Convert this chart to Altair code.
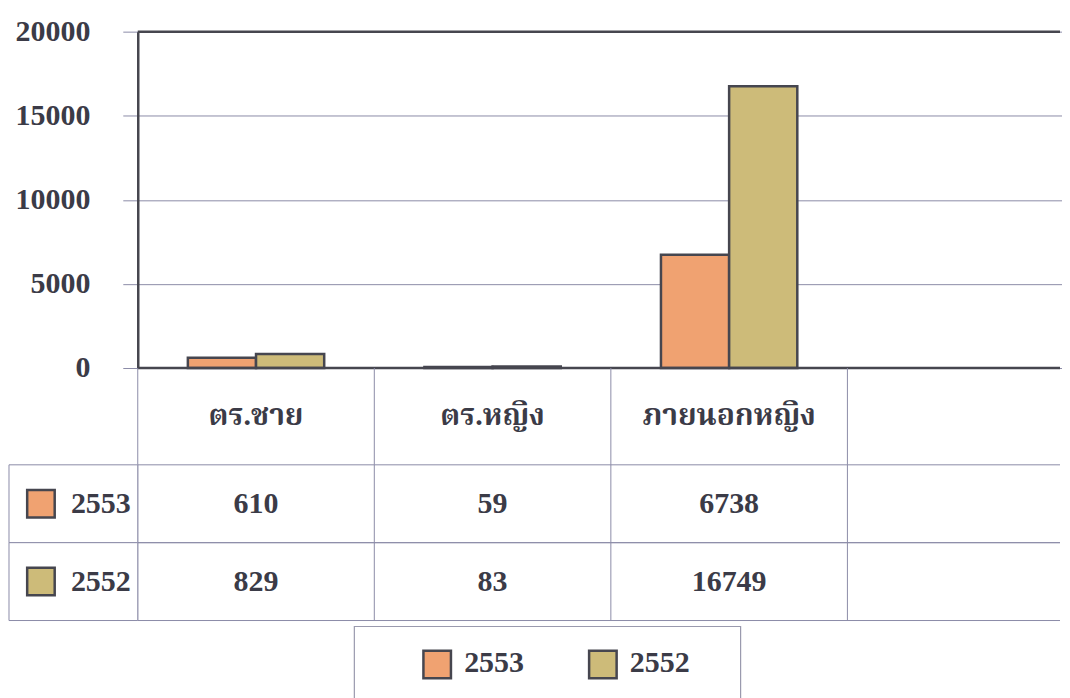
import altair as alt
import pandas as pd

# ---------------- data ----------------
categories = ["ตร.ชาย", "ตร.หญิง", "ภายนอกหญิง"]
blank_column = " "
years = ["2553", "2552"]
values_2553 = [610, 59, 6738]
values_2552 = [829, 83, 16749]
y_ticks = [0, 5000, 10000, 15000, 20000]
colors = ["#F0A271", "#CDBB79"]

rows = []
for cat, v in zip(categories, values_2553):
    rows.append({"cat": cat, "year": "2553", "value": v})
for cat, v in zip(categories, values_2552):
    rows.append({"cat": cat, "year": "2552", "value": v})
df = pd.DataFrame(rows)
cols_domain = categories + [blank_column]
hdr_df = pd.DataFrame({"cat": cols_domain})
year_df = pd.DataFrame({"year": years})
frame_df = pd.DataFrame({"v": [0, 20000]})
one_df = pd.DataFrame({"k": [0]})

# ---------------- styles ----------------
FONT = "Liberation Serif"
THAI_FONT = "'Liberation Serif', 'Noto Serif Thai', 'Norasi', 'Garuda', 'Loma', 'Noto Sans Thai', serif"
TXT = "#3b3b47"
LINE = "#8c8ca8"
DARK = "#46464f"
PLOT_W = 924          # visible plot width (page limit)
BAND_RANGE = [0, 948]  # four equal columns, the last one runs off the page

x_scale = alt.Scale(domain=cols_domain, range=BAND_RANGE, paddingInner=0, paddingOuter=0)
color_scale = alt.Scale(domain=years, range=colors)
txt_style = dict(font=FONT, fontSize=30, fontWeight="bold", color=TXT)

# ---------------- bar panel ----------------
bars = alt.Chart(df).mark_bar(stroke=DARK, strokeWidth=2.5).encode(
    x=alt.X("cat:N", scale=x_scale, axis=None),
    xOffset=alt.XOffset("year:N", scale=alt.Scale(domain=years, paddingOuter=0.735, paddingInner=0)),
    y=alt.Y(
        "value:Q",
        scale=alt.Scale(domain=[0, 20000]),
        axis=alt.Axis(
            values=y_ticks, format="d", title=None,
            labelFont=FONT, labelFontSize=30, labelFontWeight="bold", labelColor=TXT,
            tickSize=15, tickColor=LINE, tickWidth=1, labelPadding=33,
            domainColor=DARK, domainWidth=2.5, gridColor=LINE, gridWidth=1,
        ),
    ),
    color=alt.Color("year:N", scale=color_scale, legend=None),
)
frame = alt.Chart(frame_df).mark_rule(color=DARK, strokeWidth=2.5).encode(y="v:Q")
panel_bars = alt.layer(bars, frame).properties(width=PLOT_W, height=337)

# ---------------- column separators (shared helper) ----------------
def col_lines():
    return alt.Chart(hdr_df).mark_rule(color=LINE, strokeWidth=1).encode(
        x=alt.X("cat:N", scale=x_scale, bandPosition=0, axis=None)
    )

# ---------------- header row ----------------
header_text = alt.Chart(hdr_df).mark_text(
    baseline="middle", font=THAI_FONT, fontSize=30, fontWeight="bold", color=TXT
).encode(
    x=alt.X("cat:N", scale=x_scale, axis=None),
    y=alt.value(48),
    text="cat:N",
)
panel_header = alt.layer(col_lines(), header_text).properties(width=PLOT_W, height=97)

# ---------------- data rows ----------------
y_rows = alt.Scale(domain=years, paddingInner=0, paddingOuter=0)
row_top = alt.Chart(year_df).mark_rule(color=LINE, strokeWidth=1).encode(
    y=alt.Y("year:N", scale=y_rows, bandPosition=0, axis=None)
)
row_bottom = alt.Chart(year_df).mark_rule(color=LINE, strokeWidth=1).encode(
    y=alt.Y("year:N", scale=y_rows, bandPosition=1, axis=None)
)
cell_text = alt.Chart(df).mark_text(baseline="middle", **txt_style).encode(
    x=alt.X("cat:N", scale=x_scale, axis=None),
    y=alt.Y("year:N", scale=y_rows, axis=None),
    text="value:Q",
)
row_cells = alt.Chart(year_df).mark_rect(fill="white", stroke=LINE, strokeWidth=1).encode(
    x=alt.value(-129), x2=alt.value(0), y=alt.Y("year:N", scale=y_rows, axis=None)
)
row_swatch = alt.Chart(year_df).mark_square(size=760, opacity=1, stroke=DARK, strokeWidth=2.5).encode(
    x=alt.value(-97), y=alt.Y("year:N", scale=y_rows, axis=None),
    color=alt.Color("year:N", scale=color_scale, legend=None),
)
row_label = alt.Chart(year_df).mark_text(align="right", baseline="middle", **txt_style).encode(
    x=alt.value(-7), y=alt.Y("year:N", scale=y_rows, axis=None), text="year:N"
)
panel_rows = alt.layer(
    col_lines(), row_top, row_bottom, cell_text, row_cells, row_swatch, row_label
).properties(width=PLOT_W, height=156)

# ---------------- legend box ----------------
leg_x = alt.Scale(type="point", domain=years, range=[300, 466], padding=0)
leg_box = alt.Chart(one_df).mark_rect(fill="white", stroke="#9a9aae", strokeWidth=1.2).encode(
    x=alt.value(217), x2=alt.value(604), y=alt.value(6), y2=alt.value(110)
)
leg_sw = alt.Chart(year_df).mark_square(size=760, opacity=1, stroke=DARK, strokeWidth=2.5).encode(
    x=alt.X("year:N", scale=leg_x, axis=None), y=alt.value(44),
    color=alt.Color("year:N", scale=color_scale, legend=None),
)
leg_tx = alt.Chart(year_df).mark_text(align="left", baseline="middle", dx=27, **txt_style).encode(
    x=alt.X("year:N", scale=leg_x, axis=None), y=alt.value(43), text="year:N"
)
panel_legend = alt.layer(leg_box, leg_sw, leg_tx).properties(width=PLOT_W, height=85)

chart = alt.vconcat(
    panel_bars, panel_header, panel_rows, panel_legend, spacing=0, bounds="flush"
).resolve_scale(x="independent", y="independent").properties(
    padding={"left": 0, "top": 8, "right": 0, "bottom": 0},
    background="white",
).configure_view(stroke=None)

chart.save("out.html", embed_options={"renderer": "svg", "actions": False})
